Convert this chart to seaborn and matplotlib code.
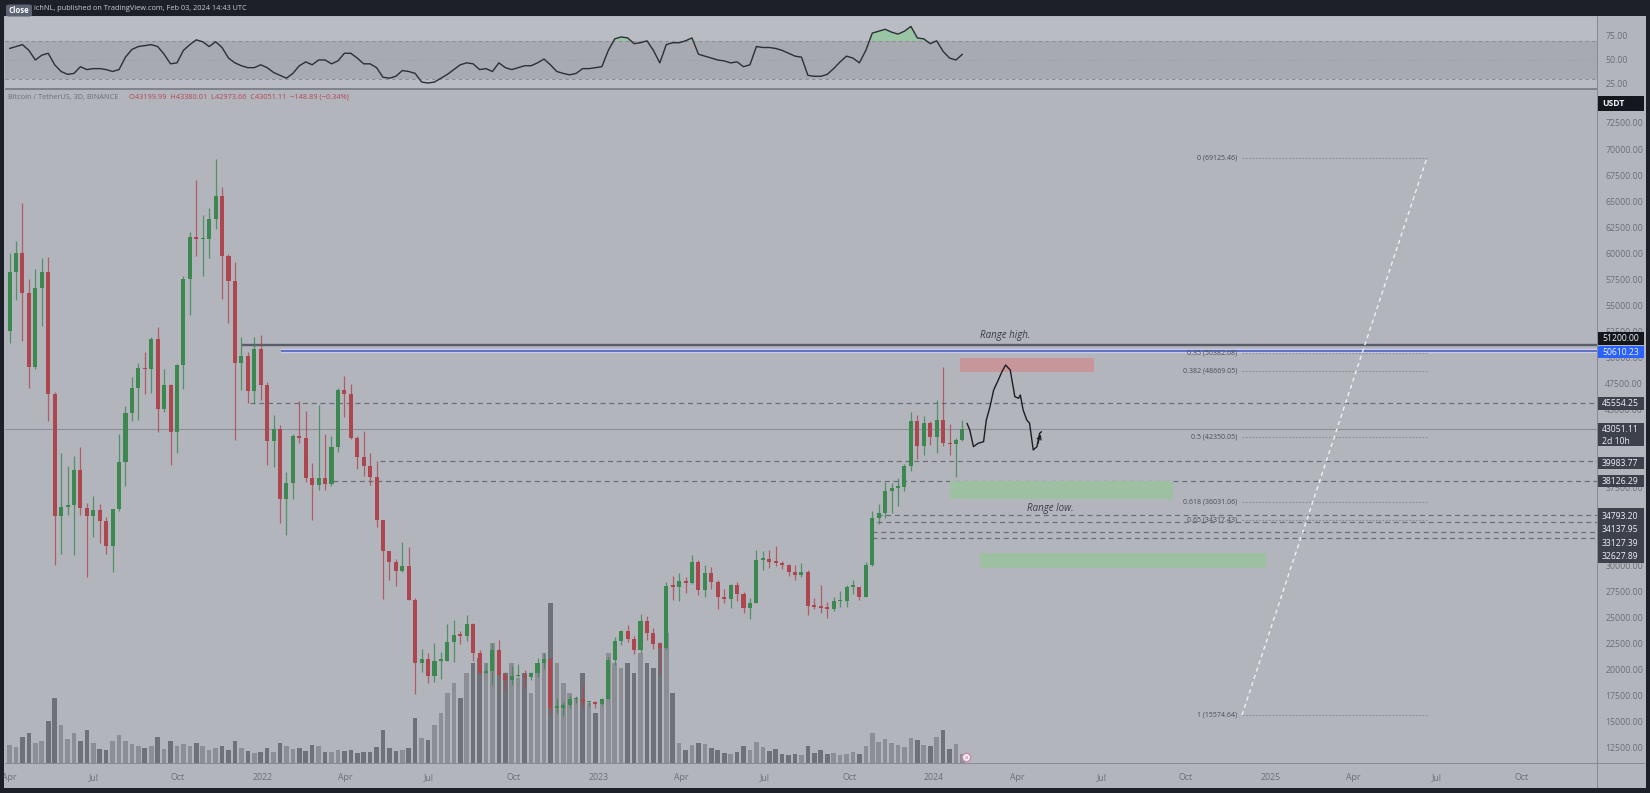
import numpy as np
import pandas as pd
import matplotlib
matplotlib.use("Agg")
import matplotlib.pyplot as plt
import matplotlib.patheffects as pe
from matplotlib.patches import Rectangle, FancyBboxPatch
import seaborn as sns

# ---------------- data ----------------
week_start = "2021-03-29"
first_open = 52500
closes = [58200, 60000, 56200, 49000, 56600, 58200, 46400, 34700, 35600, 35800,
          39100, 35500, 34700, 35300, 34250, 31800, 35400, 39900, 44600, 47000,
          48900, 48800, 51700, 45000, 47300, 42800, 49200, 57500, 61500, 61300,
          61300, 63300, 65500, 59700, 57300, 49400, 50100, 46700, 50800, 47300,
          41900, 43100, 36300, 37900, 42400, 42200, 38400, 37700, 38400, 37800,
          41300, 46800, 46400, 42200, 40400, 39500, 38500, 34300, 31300, 30300,
          29400, 29900, 26600, 20600, 21000, 19300, 20800, 20800, 22600, 23300,
          23200, 24300, 21500, 19600, 19800, 21800, 19400, 18900, 19300, 19400,
          19200, 19600, 20600, 21000, 16300, 16300, 16500, 17100, 17100, 16800,
          16800, 16600, 17100, 20900, 22700, 23700, 22900, 21800, 24600, 23500,
          22400, 22000, 28000, 27900, 28500, 28300, 30300, 27600, 29200, 28400,
          26900, 26700, 28100, 27200, 25900, 26300, 30500, 30600, 30300, 30200,
          30000, 29300, 29000, 29300, 26100, 26000, 25900, 25800, 26500, 26500,
          27900, 27900, 26900, 30000, 34500, 35000, 37100, 37400, 37500, 39500,
          43800, 41400, 43700, 42300, 43900, 41700, 41600, 42000, 43051.11]
highs = [60000, 61200, 64850, 57500, 58500, 59500, 59600, 46600, 40800, 39500,
         40500, 41300, 36000, 36600, 35900, 34600, 35400, 42600, 45300, 48100,
         49400, 50500, 51900, 52900, 48800, 47400, 49300, 57800, 62000, 67000,
         63700, 64300, 69000, 66300, 59900, 59100, 51900, 50500, 51900, 52100,
         47600, 44400, 43500, 38900, 42600, 45800, 44800, 39800, 45400, 42600,
         42400, 47000, 48200, 47400, 42400, 42900, 40800, 40000, 34300, 31300,
         30600, 32200, 31700, 26800, 21900, 21500, 22500, 21600, 24300, 24700,
         23700, 25200, 24400, 21800, 20600, 22500, 22800, 19700, 20300, 20500,
         19900, 19700, 21100, 21500, 21000, 17200, 16800, 17400, 17400, 18400,
         16900, 16900, 17200, 21200, 23100, 23800, 24200, 23200, 25250, 25100,
         23900, 22600, 28400, 28900, 29200, 28800, 31000, 30500, 30000, 29800,
         28600, 27700, 28200, 28400, 27400, 26800, 31400, 31300, 31400, 31800,
         30400, 30100, 30000, 30200, 29500, 26800, 28100, 26400, 26900, 27500,
         28100, 28600, 27900, 30300, 35200, 35900, 38000, 37900, 38400, 39700,
         44700, 44400, 44300, 43800, 45900, 49000, 43600, 42200, 43900]
lows = [51300, 55500, 51500, 47000, 48800, 53000, 43800, 30000, 31100, 34800,
        31000, 34800, 28800, 32700, 32100, 31100, 29300, 35200, 37600, 43800,
        43900, 46400, 46500, 42800, 44700, 39600, 40800, 46900, 54000, 59700,
        57800, 59500, 62300, 55600, 53300, 42000, 46800, 45600, 45600, 45900,
        39600, 39400, 34000, 32900, 36300, 41700, 38000, 34300, 37200, 37200,
        37600, 40900, 44200, 42100, 39200, 38600, 37700, 33700, 26700, 28600,
        28000, 29300, 26600, 17600, 19700, 18700, 18800, 19000, 20800, 20700,
        22400, 22700, 20800, 19500, 19600, 18500, 19300, 18100, 18500, 19200,
        18200, 18900, 19200, 20000, 15600, 15800, 15500, 16300, 16700, 16300,
        16400, 16300, 16500, 17100, 20400, 22300, 22600, 21400, 21500, 22800,
        21900, 19600, 21900, 26600, 26500, 27300, 28200, 27100, 26900, 27700,
        25800, 26300, 25900, 26500, 25400, 24800, 26300, 29500, 29700, 29900,
        29600, 28900, 28600, 28800, 25200, 25800, 25400, 24900, 25600, 26000,
        26000, 27200, 26600, 26900, 29900, 33900, 34500, 35000, 35700, 37100,
        39000, 40200, 40600, 41500, 40800, 41400, 40600, 38500, 41900]
volumes = [180, 160, 260, 300, 200, 220, 420, 650, 380, 240,
           300, 220, 330, 200, 140, 130, 220, 280, 220, 190,
           170, 150, 170, 260, 140, 220, 170, 190, 170, 200,
           170, 130, 150, 170, 130, 220, 150, 120, 100, 110,
           150, 110, 200, 170, 140, 150, 120, 180, 170, 110,
           110, 130, 120, 130, 100, 110, 110, 160, 330, 150,
           120, 130, 150, 450, 250, 230, 380, 500, 700, 800,
           650, 900, 1000, 1050, 1000, 1200, 1100, 900, 1000, 850,
           900, 700, 1000, 1100, 1600, 1000, 800, 700, 650, 900,
           600, 500, 600, 1100, 1000, 950, 1000, 900, 1100, 1000,
           950, 1200, 1300, 700, 200, 130, 180, 200, 190, 150,
           130, 100, 90, 110, 170, 130, 210, 160, 120, 140,
           90, 80, 90, 80, 170, 100, 130, 90, 100, 80,
           90, 110, 90, 170, 300, 210, 240, 200, 180, 160,
           250, 230, 180, 170, 260, 330, 140, 190, 90]
rsi_values = [62, 64, 66, 60, 50, 55, 57, 45, 38, 35,
              36, 43, 40, 41, 41, 40, 38, 40, 53, 61,
              64, 65, 66, 64, 56, 46, 47, 60, 66, 71,
              69, 64, 69, 63, 52, 47, 44, 42, 42, 45,
              42, 37, 34, 31, 36, 44, 48, 45, 50, 50,
              46, 49, 57, 57, 52, 46, 46, 42, 32, 31,
              33, 39, 38, 36, 27, 26, 27, 31, 35, 40,
              45, 47, 46, 40, 41, 38, 47, 42, 40, 42,
              44, 44, 47, 51, 45, 38, 36, 34.5, 36, 41,
              41, 42, 43, 60, 72, 74, 73, 67, 68, 70,
              60, 47, 66, 68, 68, 70, 73, 56, 54, 52,
              50, 49, 47, 48, 43, 45, 64, 63, 63, 62,
              60, 57, 54, 53, 34, 33, 33, 35, 41, 48,
              54, 52, 47, 60, 78, 80, 82, 79, 77, 80,
              85, 73, 72, 67, 70, 59, 52, 50, 56]

last_price = 43051.11
range_high_price = 51200.00
range_high_start = "2021-12-10"
blue_price = 50610.23
blue_start = "2022-01-21"
level_prices = [45554.25, 39983.77, 38126.29, 34793.20, 34137.95, 33127.39, 32627.89]
level_starts = ["2021-12-18", "2022-05-09", "2022-03-19", "2023-10-31",
                "2023-10-31", "2023-10-26", "2023-10-26"]

fib_ratios = ["0", "0.35", "0.382", "0.5", "0.618", "0.65", "1"]
fib_prices = [69125.46, 50382.68, 48669.05, 42350.05, 36031.06, 34317.43, 15574.64]
fib_start = "2024-12-01"
fib_end = "2025-06-20"

proj_dates = ["2024-02-06", "2024-02-09", "2024-02-13", "2024-02-18", "2024-02-24",
              "2024-02-27", "2024-03-02", "2024-03-06", "2024-03-11", "2024-03-15",
              "2024-03-19", "2024-03-24", "2024-03-29", "2024-04-02", "2024-04-04",
              "2024-04-07", "2024-04-11", "2024-04-14", "2024-04-18", "2024-04-22",
              "2024-04-25", "2024-04-27"]
proj_prices = [43630, 42980, 41380, 41700, 41860, 43940, 45220, 46830, 47790, 48590,
               49230, 48750, 46190, 46030, 46350, 44910, 43940, 43630, 41060, 41380,
               42660, 42820]

zone_x0 = ["2024-01-29", "2024-01-18", "2024-02-20"]
zone_x1 = ["2024-06-23", "2024-09-17", "2024-12-27"]
zone_low = [48560, 36350, 29710]
zone_high = [49950, 38080, 31150]
zone_colors = ["#c6969a", "#9dc0a3", "#9dc0a3"]

# price scale labels (the ones hidden under price badges are left out)
price_ticks = [12500, 15000, 17500, 20000, 22500, 25000, 27500, 30000, 37500,
               45000, 47500, 50000, 52500, 55000, 57500, 60000, 62500, 65000,
               67500, 70000, 72500]
rsi_ticks = [25, 50, 75]
time_ticks = ["2021-04-01", "2021-07-01", "2021-10-01", "2022-01-01", "2022-04-01",
              "2022-07-01", "2022-10-01", "2023-01-01", "2023-04-01", "2023-07-01",
              "2023-10-01", "2024-01-01", "2024-04-01", "2024-07-01", "2024-10-01",
              "2025-01-01", "2025-04-01", "2025-07-01", "2025-10-01"]
time_labels = ["Apr", "Jul", "Oct", "2022", "Apr", "Jul", "Oct", "2023", "Apr", "Jul",
               "Oct", "2024", "Apr", "Jul", "Oct", "2025", "Apr", "Jul", "Oct"]

# ---------------- style ----------------
sns.set_theme(style="white")
plt.rcParams["font.family"] = ["Open Sans", "DejaVu Sans"]

W, H = 1650, 793
BG = "#b3b5bd"
DARK = "#1d2029"
AXTXT = "#6c6f78"
GREEN = "#3d8750"
RED = "#ae464f"

fig = plt.figure(figsize=(W / 100, H / 100), dpi=100)
fig.patch.set_facecolor(BG)


def fb(x0, y0, x1, y1):
    return [x0 / W, 1 - y1 / H, (x1 - x0) / W, (y1 - y0) / H]


def frect(x0, y0, x1, y1, fc, z=5):
    fig.add_artist(Rectangle((x0 / W, 1 - y1 / H), (x1 - x0) / W, (y1 - y0) / H,
                             transform=fig.transFigure, fc=fc, ec="none", zorder=z))


xmin = pd.Timestamp("2021-03-27")
xmax = pd.Timestamp("2025-12-22")

ax_rsi = fig.add_axes(fb(5, 17, 1597, 88))
ax_vol = fig.add_axes(fb(5, 89, 1597, 763))
ax = fig.add_axes(fb(5, 89, 1597, 763))
ax.patch.set_alpha(0)

dates = pd.date_range(week_start, periods=len(closes), freq="7D") + pd.Timedelta(days=3)
c = np.array(closes, dtype=float)
o = np.array([first_open] + closes[:-1], dtype=float)
up = c >= o
cols = np.where(up, GREEN, RED)

# ---------------- RSI panel ----------------
ax_rsi.set_facecolor("#babcc3")
ax_rsi.axhspan(30, 70, color="#a8aab2", lw=0)
for lvl in (30, 70):
    ax_rsi.axhline(lvl, color="#8c8e96", lw=0.8, ls=(0, (3, 3)))
ax_rsi.axhline(50, color="#9a9ca4", lw=0.6, ls=(0, (1, 2)))
rsi_arr = np.array(rsi_values, dtype=float)
ax_rsi.fill_between(dates, 70, rsi_arr, where=rsi_arr > 70, interpolate=True,
                    color="#8fc99a", alpha=0.75, lw=0)
sns.lineplot(x=dates, y=rsi_arr, ax=ax_rsi, color="#2d2f36", lw=1.0)
ax_rsi.set_ylim(20.8, 94.8)
ax_rsi.set_xlim(xmin, xmax)
ax_rsi.yaxis.tick_right()
ax_rsi.set_yticks(rsi_ticks)
ax_rsi.set_yticklabels([f"{t:.2f}" for t in rsi_ticks])
ax_rsi.tick_params(axis="y", length=0, pad=6, labelsize=6.3, labelcolor=AXTXT)
ax_rsi.set_xticks([])
ax_rsi.set_xlabel("")
ax_rsi.set_ylabel("")
for s in ax_rsi.spines.values():
    s.set_visible(False)

# ---------------- volume ----------------
ax_vol.set_facecolor(BG)
ax_vol.bar(dates, volumes, width=5.0, color=np.where(up, "#8b8e95", "#6e7178"), lw=0)
ax_vol.set_ylim(0, 6730)
ax_vol.set_xlim(xmin, xmax)
ax_vol.axis("off")

# ---------------- price ----------------
ax.set_xlim(xmin, xmax)
ax.set_ylim(10964, 75769)
ax.axhline(last_price, color="#8e9098", lw=0.8, zorder=1)

end = pd.Timestamp(xmax)
ax.hlines(range_high_price, pd.Timestamp(range_high_start), end, color="#595d68", lw=1.7, zorder=2)
ax.hlines(blue_price, pd.Timestamp(blue_start), end, color="#4c60c4", lw=1.2, zorder=2,
          path_effects=[pe.Stroke(linewidth=3.2, foreground="#c7cae2"), pe.Normal()])
for p, s0 in zip(level_prices, level_starts):
    ax.hlines(p, pd.Timestamp(s0), end, color="#6b6e77", lw=0.9, ls=(0, (4, 3)), zorder=2)

for x0, x1, lo, hi, fc in zip(zone_x0, zone_x1, zone_low, zone_high, zone_colors):
    t0, t1 = pd.Timestamp(x0), pd.Timestamp(x1)
    ax.add_patch(Rectangle((t0, lo), t1 - t0, hi - lo, fc=fc, ec="none", zorder=2))

# candles
ax.vlines(dates, lows, highs, colors=cols, lw=0.9, alpha=0.8, zorder=3)
body = np.maximum(np.abs(c - o), 150)
ax.bar(dates, body, bottom=np.minimum(o, c), width=4.4, color=cols, lw=0, zorder=4)

# fib retracement
fs, fe = pd.Timestamp(fib_start), pd.Timestamp(fib_end)
for r, p in zip(fib_ratios, fib_prices):
    ax.hlines(p, fs, fe, color="#8b8d95", lw=0.8, ls=(0, (1.5, 1.5)), zorder=2)
    ax.text(fs - pd.Timedelta(days=5), p, f"{r} ({p:.2f})", ha="right", va="center",
            fontsize=5.0, color="#4a4d56", zorder=5)
ax.plot([fs, fe], [fib_prices[-1], fib_prices[0]], color="#eef0f4", lw=1.0,
        ls=(0, (3, 2.5)), zorder=2)

# projected path
pdates = pd.to_datetime(proj_dates)
sns.lineplot(x=pdates, y=proj_prices, sort=False, ax=ax, color="#1c1e24", lw=1.0, zorder=5)
ax.annotate("", xy=(pdates[-1], proj_prices[-1]), xytext=(pdates[-3], proj_prices[-3]),
            arrowprops=dict(arrowstyle="->", color="#1c1e24", lw=0.9, mutation_scale=7), zorder=5)

ax.text(pd.Timestamp("2024-03-18"), 52050, "Range high.", style="italic", fontsize=7,
        color="#3a3d46", ha="center", va="center")
ax.text(pd.Timestamp("2024-05-07"), 35480, "Range low.", style="italic", fontsize=7,
        color="#3a3d46", ha="center", va="center")

ax.plot([pd.Timestamp("2024-02-05")], [11500], marker="o", ms=6, mfc="#f3eef2",
        mec="#c98aa9", mew=1, zorder=6, clip_on=False)
ax.text(pd.Timestamp("2024-02-05"), 11500, "a", fontsize=4, color="#b0708e",
        ha="center", va="center", zorder=7)

ax.yaxis.tick_right()
ax.set_yticks(price_ticks)
ax.set_yticklabels([f"{t:.2f}" for t in price_ticks])
ax.tick_params(axis="y", length=0, pad=6, labelsize=6.3, labelcolor=AXTXT)
ax.set_xticks(pd.to_datetime(time_ticks))
ax.set_xticklabels(time_labels)
ax.tick_params(axis="x", length=0, pad=7, labelsize=6.3, labelcolor=AXTXT)
ax.set_xlabel("")
ax.set_ylabel("")
for s in ax.spines.values():
    s.set_visible(False)

# ---------------- frame / chrome ----------------
frect(0, 0, W, 16, DARK, z=6)
frect(0, 0, 4, H, DARK, z=6)
frect(W - 4, 0, W, H, DARK, z=6)
frect(0, 788, W, H, DARK, z=6)
frect(5, 88, 1597, 89.5, "#80838c", z=6)
frect(1597, 16, 1598, 788, "#878a92", z=6)
frect(5, 763, 1645, 764, "#878a92", z=6)

fig.add_artist(FancyBboxPatch((6 / W, 1 - 16.5 / H), 26 / W, 12 / H,
                              boxstyle="round,pad=0,rounding_size=0.002",
                              transform=fig.transFigure, fc="#5c6272", ec="none", zorder=7))
fig.text(19 / W, 1 - 10.5 / H, "Close", fontsize=5.6, color="white", fontweight="bold",
         ha="center", va="center", zorder=8)
fig.text(34 / W, 1 - 8.5 / H, "ichNL, published on TradingView.com, Feb 03, 2024 14:43 UTC",
         fontsize=5.3, color="#c9cbd3", ha="left", va="center", zorder=8)

fig.text(8 / W, 1 - 97 / H, "Bitcoin / TetherUS, 3D, BINANCE", fontsize=5.3,
         color=AXTXT, ha="left", va="center", zorder=8)
fig.text(129 / W, 1 - 97 / H, "O43199.99  H43380.01  L42973.66  C43051.11  \u2212148.89 (\u22120.34%)",
         fontsize=5.3, color="#b24955", ha="left", va="center", zorder=8)

# price badges on the scale
def badge(y0, y1, texts, fc, bold=False):
    frect(1598, y0, 1644, y1, fc, z=7)
    for ty, t in texts:
        fig.text(1602 / W, 1 - ty / H, t, fontsize=6.2, color="#f0f2f6",
                 fontweight="bold" if bold else "normal", ha="left", va="center", zorder=8)

badge(96, 111, [(103.5, "USDT")], "#15171e", bold=True)
badge(332, 345, [(338.5, f"{range_high_price:.2f}")], "#14161d")
badge(346, 358, [(352, f"{blue_price:.2f}")], "#2962ff")
badge(397, 410, [(403.5, f"{level_prices[0]:.2f}")], "#3d414c")
badge(423, 446, [(430, f"{last_price:.2f}"), (441, "2d 10h")], "#3d414c")
badge(457, 469, [(463, f"{level_prices[1]:.2f}")], "#3d414c")
badge(475, 487, [(481, f"{level_prices[2]:.2f}")], "#3d414c")
badge(508, 563, [(516.5, f"{level_prices[3]:.2f}"), (529.5, f"{level_prices[4]:.2f}"),
                 (543, f"{level_prices[5]:.2f}"), (556.5, f"{level_prices[6]:.2f}")], "#3d414c")

fig.savefig("out.png", dpi=100, facecolor=fig.get_facecolor())
